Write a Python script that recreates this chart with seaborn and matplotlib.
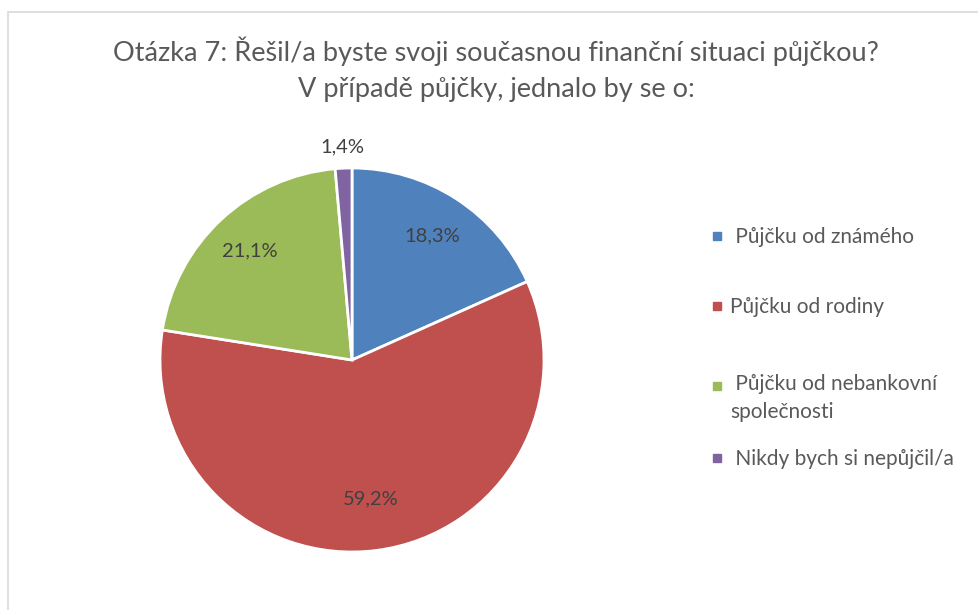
import matplotlib
matplotlib.use("Agg")
import matplotlib.pyplot as plt
import seaborn as sns
import numpy as np
from matplotlib.patches import Rectangle
from matplotlib.lines import Line2D

categories = [" Půjčku od známého", "Půjčku od rodiny", " Půjčku od nebankovní\nspolečnosti", " Nikdy bych si nepůjčil/a"]
values = [18.3, 59.2, 21.1, 1.4]
value_labels = ["18,3%", "59,2%", "21,1%", "1,4%"]
title_text = "Otázka 7: Řešil/a byste svoji současnou finanční situaci půjčkou?\nV případě půjčky, jednalo by se o:"

colors = ["#4F81BD", "#C0504D", "#9BBB59", "#8064A2"]
label_dist = [0.77, 0.73, 0.78, 1.11]
legend_tops = [217, 287, 364, 439]

sns.set_theme(style="white")
plt.rcParams["font.family"] = ["Lato", "DejaVu Sans"]

W, H = 979, 610
fig = plt.figure(figsize=(W / 100, H / 100), dpi=100)
fig.patch.set_facecolor("white")

# outer border
fig.add_artist(Rectangle((8 / W, -0.05), 1.1, 1 - 12 / H + 0.05, transform=fig.transFigure,
                         fill=False, edgecolor="#D9D9D9", linewidth=1.2))

cx, cy, r = 352, 360, 192
ax = fig.add_axes([(cx - r) / W, (H - cy - r) / H, 2 * r / W, 2 * r / H])
wedges, _ = ax.pie(values, colors=colors, startangle=90, counterclock=False, radius=1,
                   wedgeprops=dict(edgecolor="white", linewidth=2))
ax.set_xlim(-1, 1)
ax.set_ylim(-1, 1)
ax.set_aspect("auto")
ax.axis("off")

for w, lab, d in zip(wedges, value_labels, label_dist):
    ang = np.deg2rad((w.theta1 + w.theta2) / 2)
    ax.text(d * np.cos(ang), d * np.sin(ang), lab, ha="center", va="center",
            fontsize=14.5, color="#404040")

fig.text(0.507, 1 - 69 / H, title_text, ha="center", va="center", fontsize=19.5,
         color="#595959", linespacing=1.55)

for c, lab, top in zip(colors, categories, legend_tops):
    h = Line2D([0], [0], marker="s", linestyle="none", markersize=6,
               markerfacecolor=c, markeredgecolor=c)
    leg = fig.legend([h], [lab], loc="upper left", bbox_to_anchor=(696 / W, 1 - top / H),
                     frameon=False, fontsize=15, handletextpad=0.15, borderpad=0,
                     handlelength=1.0, labelcolor="#595959")
    for t in leg.get_texts():
        t.set_linespacing(1.45)
    nlines = lab.count("\n")
    if nlines:
        for lh in leg.legend_handles:
            lh.set_ydata(np.asarray(lh.get_ydata()) + 9.0 * nlines)

fig.savefig("out.png", dpi=100)
